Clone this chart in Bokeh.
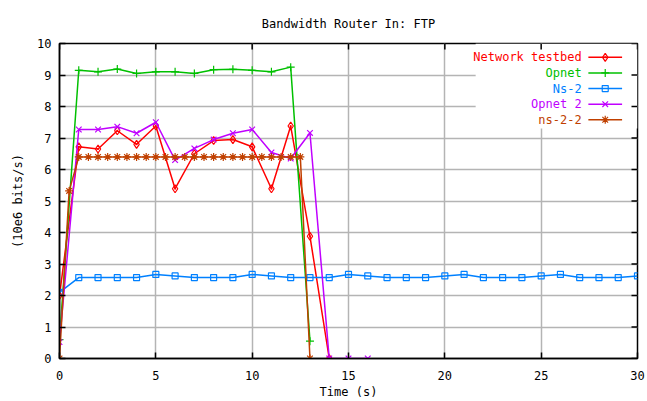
from bokeh.plotting import figure
from bokeh.models import Range1d, FixedTicker, BoxAnnotation, Label
from bokeh.embed import file_html
from bokeh.resources import INLINE

FONT = "DejaVu Sans Mono"

# ---------------- data ----------------
series_names = ["Network testbed", "Opnet", "Ns-2", "Opnet 2", "ns-2-2"]
series_colors = ["#ff0000", "#00c000", "#0080ff", "#c000ff", "#c04000"]
series_markers = ["diamond_dot", "cross", "square", "x", "asterisk"]

t_net = [0, 1, 2, 3, 4, 5, 6, 7, 8, 9, 10, 11, 12, 13, 14]
v_net = [2.0, 6.72, 6.65, 7.23, 6.8, 7.38, 5.39, 6.5, 6.92, 6.95, 6.72, 5.39, 7.38, 3.88, 0.0]

t_opnet = [0, 1, 2, 3, 4, 5, 6, 7, 8, 9, 10, 11, 12, 13]
v_opnet = [0.6, 9.15, 9.1, 9.19, 9.05, 9.1, 9.1, 9.05, 9.17, 9.18, 9.15, 9.1, 9.25, 0.55]

t_ns2 = [0, 1, 2, 3, 4, 5, 6, 7, 8, 9, 10, 11, 12, 13, 14, 15, 16, 17, 18, 19,
         20, 21, 22, 23, 24, 25, 26, 27, 28, 29, 30]
v_ns2 = [2.1, 2.57, 2.57, 2.57, 2.57, 2.67, 2.62, 2.57, 2.57, 2.57, 2.67, 2.62,
         2.57, 2.57, 2.57, 2.67, 2.62, 2.57, 2.57, 2.57, 2.62, 2.67, 2.57, 2.57,
         2.57, 2.62, 2.67, 2.57, 2.57, 2.57, 2.62]

t_opnet2 = [0, 1, 2, 3, 4, 5, 6, 7, 8, 9, 10, 11, 12, 13, 14, 15, 16]
v_opnet2 = [0.52, 7.27, 7.27, 7.36, 7.15, 7.5, 6.3, 6.67, 6.95, 7.15, 7.27, 6.54,
            6.35, 7.16, 0.0, 0.0, 0.0]

t_ns22 = [0, 0.5, 1, 1.5, 2, 2.5, 3, 3.5, 4, 4.5, 5, 5.5, 6, 6.5, 7, 7.5, 8, 8.5,
          9, 9.5, 10, 10.5, 11, 11.5, 12, 12.5, 13]
v_ns22 = [0.0, 5.32, 6.4, 6.4, 6.4, 6.4, 6.4, 6.4, 6.4, 6.4, 6.4, 6.4, 6.4, 6.4,
          6.4, 6.4, 6.4, 6.4, 6.4, 6.4, 6.4, 6.4, 6.4, 6.4, 6.4, 6.4, 0.0]

x_ticks = [0, 5, 10, 15, 20, 25, 30]
y_ticks = [0, 1, 2, 3, 4, 5, 6, 7, 8, 9, 10]

series_t = [t_net, t_opnet, t_ns2, t_opnet2, t_ns22]
series_v = [v_net, v_opnet, v_ns2, v_opnet2, v_ns22]

X_MIN, X_MAX, Y_MIN, Y_MAX = 0, 30, 0, 10

# ---------------- figure ----------------
p = figure(width=647, height=401, output_backend="svg", toolbar_location=None,
           x_range=Range1d(X_MIN, X_MAX), y_range=Range1d(Y_MIN, Y_MAX),
           min_border_left=59, min_border_right=10, min_border_top=43,
           min_border_bottom=43, background_fill_color="white",
           border_fill_color="white")

p.outline_line_color = "black"
p.outline_line_width = 1.5

p.title.text = "Bandwidth Router In: FTP"
p.title.align = "center"
p.title.vertical_align = "top"
p.title.text_font = FONT
p.title.text_font_size = "12px"
p.title.text_font_style = "normal"
p.title.text_color = "black"
p.title.standoff = 22

xa = p.below[0]
ya = p.left[0]
for ax, ticks in ((xa, x_ticks), (ya, y_ticks)):
    ax.ticker = FixedTicker(ticks=ticks)
    ax.major_tick_in = 6
    ax.major_tick_out = 0
    ax.minor_tick_line_color = None
    ax.axis_line_color = "black"
    ax.axis_line_width = 1.5
    ax.major_tick_line_color = "black"
    ax.major_tick_line_width = 1.5
    ax.major_label_text_font = FONT
    ax.major_label_text_font_size = "12px"
    ax.major_label_text_color = "black"
    ax.axis_label_text_font = FONT
    ax.axis_label_text_font_size = "12px"
    ax.axis_label_text_font_style = "normal"
    ax.axis_label_text_color = "black"

xa.axis_label = "Time (s)"
xa.major_label_standoff = 12
xa.axis_label_standoff = 2
ya.axis_label = "(10e6 bits/s)"
ya.major_label_standoff = 8
ya.axis_label_standoff = 9

# mirrored inward ticks on top and right edges
tick_dy = 6 / 31.45
tick_dx = 6 / 19.27
p.segment(x0=x_ticks, x1=x_ticks, y0=[Y_MAX] * len(x_ticks),
          y1=[Y_MAX - tick_dy] * len(x_ticks), line_color="black", line_width=1.5)
p.segment(x0=[X_MAX] * len(y_ticks), x1=[X_MAX - tick_dx] * len(y_ticks),
          y0=y_ticks, y1=y_ticks, line_color="black", line_width=1.5)

p.xgrid.ticker = FixedTicker(ticks=x_ticks)
p.ygrid.ticker = FixedTicker(ticks=y_ticks)
p.grid.grid_line_color = "#b4b4b4"
p.grid.grid_line_width = 1.5

# white area behind the key (gnuplot clears the key box)
p.add_layout(BoxAnnotation(left=21.6, right=30, bottom=7.3, top=10,
                           fill_color="white", fill_alpha=1.0,
                           line_color=None, level="underlay"))

# ---------------- series ----------------
for t, v, c, m in zip(series_t, series_v, series_colors, series_markers):
    p.line(t, v, line_color=c, line_width=1.5)
    p.scatter(t, v, marker=m, size=8 if m != "square" else 6,
              line_color=c, fill_color=None, line_width=1.2)

# ---------------- key ----------------
key_text_x = 27.1
key_x0, key_x1 = 27.45, 29.2
key_top = 9.56
key_step = 0.495
for i, (name, c, m) in enumerate(zip(series_names, series_colors, series_markers)):
    yy = key_top - i * key_step
    p.add_layout(Label(x=key_text_x, y=yy, text=name, text_align="right",
                       text_baseline="middle", text_color=c, text_font=FONT,
                       text_font_size="12px"))
    p.segment(x0=[key_x0], y0=[yy], x1=[key_x1], y1=[yy], line_color=c, line_width=1.5)
    p.scatter([(key_x0 + key_x1) / 2], [yy], marker=m, size=8 if m != "square" else 6,
              line_color=c, fill_color=None, line_width=1.2)

open("out.html", "w").write(file_html(p, INLINE))
